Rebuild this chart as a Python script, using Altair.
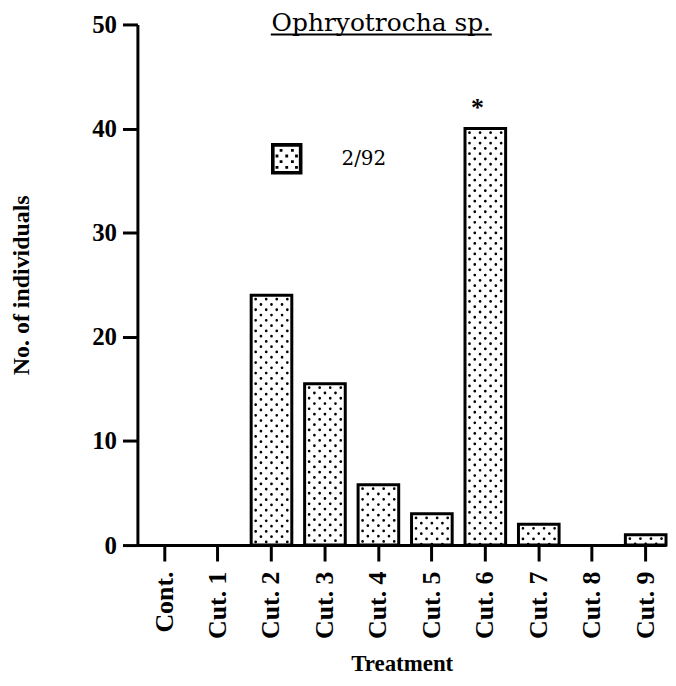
import altair as alt
import pandas as pd

# ---- data ----
treatments = ["Cont.", "Cut. 1", "Cut. 2", "Cut. 3", "Cut. 4",
              "Cut. 5", "Cut. 6", "Cut. 7", "Cut. 8", "Cut. 9"]
counts = [0, 0, 24, 15.5, 5.8, 3, 40, 2, 0, 1]
significance = ["", "", "", "", "", "", "*", "", "", ""]
series_label = "2/92"
chart_title = "Ophryotrocha sp."
x_title = "Treatment"
y_title = "No. of individuals"
y_ticks = [0, 10, 20, 30, 40, 50]

df = pd.DataFrame({
    "treatment": treatments,
    "count": counts,
    "sig": significance,
    "series": [series_label] * len(treatments),
})

SERIF = "Liberation Serif"
SERIF_REG = "DejaVu Serif"
W, H = 531, 523

x_scale = alt.Scale(domain=treatments, paddingInner=0.24, paddingOuter=0.064, align=1)
x_enc = alt.X(
    "treatment:N", sort=treatments, scale=x_scale,
    axis=alt.Axis(
        title=x_title, labelAngle=-90, labelAlign="right", labelBaseline="middle",
        labelFont=SERIF, labelFontSize=26, labelFontWeight="bold", labelColor="black",
        labelPadding=10, tickSize=16, tickWidth=3, tickColor="black",
        domainWidth=3, domainColor="black", grid=False,
        titleFont=SERIF, titleFontSize=23, titleFontWeight="bold", titleColor="black",
        titlePadding=14,
    ),
)
y_enc = alt.Y(
    "count:Q",
    scale=alt.Scale(domain=[0, 50], nice=False),
    axis=alt.Axis(
        values=y_ticks, title=y_title,
        labelFont=SERIF, labelFontSize=25, labelFontWeight="bold", labelColor="black",
        labelPadding=6, tickSize=15, tickWidth=3, tickColor="black",
        domainWidth=3, domainColor="black", grid=False,
        titleFont=SERIF, titleFontSize=24, titleFontWeight="bold", titleColor="black",
        titlePadding=58,
    ),
)

base = alt.Chart(df).transform_filter("datum.count > 0").encode(x=x_enc)

bg = base.mark_bar(fill="white", strokeWidth=0).encode(y=y_enc, y2=alt.datum(0))

# stipple texture of the bars
dot_layers = []
col_offsets = [-15.9, -10.6, -5.3, 0, 5.3, 10.6, 15.9]
for k, off in enumerate(col_offsets):
    dot_layers.append(
        base.mark_rule(
            color="black", strokeWidth=2.7, strokeCap="round",
            strokeDash=[0.1, 10.5], strokeDashOffset=(6.6 if k % 2 == 0 else 1.3),
            xOffset=off,
        ).encode(y="count:Q", y2=alt.datum(0))
    )

outline = base.mark_bar(fill="transparent", stroke="black", strokeWidth=3,
                        strokeJoin="miter").encode(y="count:Q", y2=alt.datum(0))

star = base.mark_text(font=SERIF, fontSize=26, fontWeight="bold", baseline="alphabetic",
                      dy=-13, dx=-8, color="black").encode(y="count:Q", text="sig:N")

# legend (custom stippled square symbol)
legend_path = (
    "M-1,-1H1V1H-1Z M-0.77,-0.77V0.77H0.77V-0.77Z "
    + " ".join(
        f"M{x - 0.09:.2f},{y - 0.09:.2f}h0.18v0.18h-0.18Z"
        for y, xs in [(-0.54, [-0.36, 0.36]), (-0.18, [-0.62, 0, 0.62]),
                      (0.18, [-0.36, 0.36]), (0.54, [-0.62, 0, 0.62])]
        for x in xs
    )
)
legend_layer = alt.Chart(df).transform_filter("false").mark_point(
    filled=True, shape=legend_path, size=1000, opacity=1
).encode(
    x=alt.X("treatment:N", sort=treatments, scale=x_scale),
    y="count:Q",
    color=alt.Color(
        "series:N",
        scale=alt.Scale(domain=[series_label], range=["black"]),
        legend=alt.Legend(
            title=None, orient="none", legendX=134, legendY=119, padding=0,
            symbolType=legend_path, symbolSize=1000, symbolStrokeWidth=0,
            symbolOpacity=1,
            labelFont=SERIF_REG, labelFontSize=20, labelColor="black", labelOffset=39,
        ),
    ),
)

title_df = pd.DataFrame({"t": [chart_title]})
title_text = alt.Chart(title_df).mark_text(
    font=SERIF_REG, fontSize=25, align="center", baseline="alphabetic", color="black"
).encode(x=alt.value(245), y=alt.value(7), text="t:N")
underline = alt.Chart(title_df).mark_rule(color="black", strokeWidth=2).encode(
    x=alt.value(134), x2=alt.value(356), y=alt.value(10)
)

chart = alt.layer(
    bg, *dot_layers, outline, star, legend_layer, title_text, underline
).properties(
    width=W, height=H,
    padding={"left": 2, "top": 2, "right": 0, "bottom": 0},
    background="white",
).configure_view(stroke=None)

chart.save("out.html", embed_options={"renderer": "svg", "actions": False})
